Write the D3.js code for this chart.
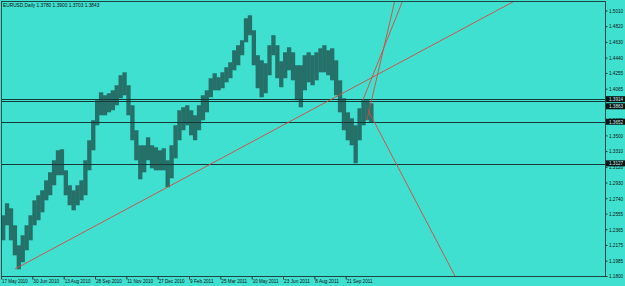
<!DOCTYPE html>
<html>
<head>
<meta charset="utf-8">
<script src="https://cdn.jsdelivr.net/npm/d3@7"></script>
<style>
  body { margin: 0; background: #40e0d0; }
  svg { display: block; }
</style>
</head>
<body>
<div id="chart"></div>
<script>
// EURUSD daily, May 2010 - Oct 2011
const title = 'EURUSD,Daily  1.3780 1.3900 1.3703 1.3843';

const dateBars = [0, 32, 64, 96, 128, 160, 192, 224, 256, 288, 320, 352];
const dateLabels = ['17 May 2010', '30 Jun 2010', '13 Aug 2010', '28 Sep 2010', '11 Nov 2010',
  '27 Dec 2010', '9 Feb 2011', '25 Mar 2011', '10 May 2011', '23 Jun 2011', '8 Aug 2011', '21 Sep 2011'];

const priceTicks = [1.5010, 1.4820, 1.4630, 1.4440, 1.4255, 1.4065, 1.3875, 1.3685, 1.3500,
  1.3310, 1.3120, 1.2930, 1.2740, 1.2555, 1.2365, 1.2175, 1.1985, 1.1800];

// high / low of each 4-bar block
const blockSize = 4;
const blockHigh = [1.2534, 1.2679, 1.2619, 1.2413, 1.2171, 1.2292, 1.2413, 1.2534, 1.2715, 1.2776,
  1.2836, 1.2957, 1.3054, 1.3199, 1.3320, 1.3332, 1.3078, 1.2897, 1.2836, 1.2897,
  1.2957, 1.3199, 1.3441, 1.3683, 1.3925, 1.4021, 1.3985, 1.4009, 1.4045, 1.4106,
  1.4227, 1.4263, 1.4106, 1.3864, 1.3562, 1.3380, 1.3380, 1.3477, 1.3380, 1.3356,
  1.3320, 1.3344, 1.3199, 1.3380, 1.3622, 1.3804, 1.3840, 1.3864, 1.3804, 1.3743,
  1.3864, 1.3985, 1.4045, 1.4191, 1.4251, 1.4203, 1.4263, 1.4324, 1.4384, 1.4529,
  1.4590, 1.4650, 1.4916, 1.4952, 1.4771, 1.4469, 1.4408, 1.4372, 1.4590, 1.4711,
  1.4590, 1.4396, 1.4505, 1.4565, 1.4505, 1.4348, 1.4348, 1.4469, 1.4505, 1.4469,
  1.4505, 1.4553, 1.4590, 1.4529, 1.4553, 1.4408, 1.4166, 1.3949, 1.3779, 1.3707,
  1.3622, 1.3828, 1.3925, 1.3925, 1.3888];
const blockLow = [1.2232, 1.2413, 1.2232, 1.2050, 1.1881, 1.1966, 1.2111, 1.2232, 1.2413, 1.2474,
  1.2570, 1.2715, 1.2776, 1.2897, 1.3018, 1.3018, 1.2776, 1.2655, 1.2594, 1.2655,
  1.2715, 1.2776, 1.3078, 1.3320, 1.3622, 1.3743, 1.3743, 1.3779, 1.3804, 1.3864,
  1.3949, 1.3985, 1.3743, 1.3441, 1.3199, 1.2969, 1.3054, 1.3199, 1.3102, 1.3078,
  1.3078, 1.3078, 1.2873, 1.2981, 1.3223, 1.3441, 1.3562, 1.3622, 1.3501, 1.3441,
  1.3562, 1.3683, 1.3779, 1.3961, 1.4045, 1.4045, 1.4070, 1.4142, 1.4191, 1.4287,
  1.4348, 1.4469, 1.4626, 1.4711, 1.4348, 1.4070, 1.3961, 1.4009, 1.4227, 1.4469,
  1.4191, 1.4082, 1.4191, 1.4287, 1.4166, 1.3925, 1.3840, 1.4045, 1.4142, 1.4106,
  1.4166, 1.4263, 1.4263, 1.4227, 1.4166, 1.3985, 1.3779, 1.3562, 1.3441, 1.3380,
  1.3163, 1.3441, 1.3622, 1.3683, 1.3659];

// horizontal lines and their price boxes
const levelPrices = [1.3937, 1.3912, 1.3662, 1.3154];
const levelLabels = ['1.3914', '1.3863', '1.3652', '1.3127'];
const levelLabelPrices = [1.3938, 1.3852, 1.3665, 1.3162];

// trend lines: start point and second point (bar, price), drawn as rays
const trendStartBar = [14.3, 373.7, 369.6, 374.8];
const trendStartPrice = [1.1885, 1.3686, 1.3928, 1.3807];
const trendEndBar = [336, 402.3, 410.5, 463.6];
const trendEndPrice = [1.3928, 1.5137, 1.5137, 1.1800];

const width = 625;
const height = 286;
const plot = { left: 1, right: 605, top: 1, bottom: 276 };

const bg = '#40e0d0';
const barColor = '#26706a';
const frameColor = '#1d4643';
const lineColor = '#143a37';
const redColor = '#d8483e';
const font = '"Liberation Sans", Arial, sans-serif';
const charW = 2.35;   // squeezed terminal font

const svg = d3.select('#chart').append('svg')
  .attr('width', width)
  .attr('height', height)
  .style('background', bg);

const xScale = d3.scaleLinear()
  .domain([0, 352])
  .range([1, 345.7]);

const yScale = d3.scaleLinear()
  .domain([1.1800, 1.5010])
  .range([276, 10.5]);

const squeeze = sel => sel
  .attr('font-family', font)
  .attr('font-size', 5.5)
  .attr('textLength', function() { return this.textContent.length * charW; })
  .attr('lengthAdjust', 'spacingAndGlyphs');

svg.append('clipPath').attr('id', 'plot-clip')
  .append('rect')
    .attr('x', plot.left)
    .attr('y', plot.top)
    .attr('width', plot.right - plot.left)
    .attr('height', plot.bottom - plot.top);

const inner = svg.append('g').attr('clip-path', 'url(#plot-clip)');

// price blocks
const blocks = blockHigh.map((h, i) => ({ i, high: h, low: blockLow[i] }));
inner.selectAll('.block').data(blocks)
  .enter().append('rect')
    .attr('class', 'block')
    .attr('x', d => xScale(d.i * blockSize))
    .attr('y', d => yScale(d.high))
    .attr('width', xScale(blockSize) - xScale(0) + 0.4)
    .attr('height', d => yScale(d.low) - yScale(d.high))
    .attr('fill', barColor);

// horizontal levels
inner.selectAll('.level').data(levelPrices)
  .enter().append('line')
    .attr('class', 'level')
    .attr('x1', plot.left)
    .attr('x2', plot.right)
    .attr('y1', d => Math.round(yScale(d)) + 0.5)
    .attr('y2', d => Math.round(yScale(d)) + 0.5)
    .attr('stroke', lineColor)
    .attr('stroke-width', 1);

// trend lines, extended as rays to the right
const trends = trendStartBar.map((b, i) => {
  const x1 = xScale(b), y1 = yScale(trendStartPrice[i]);
  const x2 = xScale(trendEndBar[i]), y2 = yScale(trendEndPrice[i]);
  const k = 4;
  return { x1, y1, x2: x1 + (x2 - x1) * k, y2: y1 + (y2 - y1) * k };
});
inner.selectAll('.trend').data(trends)
  .enter().append('line')
    .attr('class', 'trend')
    .attr('x1', d => d.x1)
    .attr('y1', d => d.y1)
    .attr('x2', d => d.x2)
    .attr('y2', d => d.y2)
    .attr('stroke', redColor)
    .attr('stroke-width', 0.9);

// frame
svg.append('rect')
  .attr('x', plot.left + 0.5)
  .attr('y', plot.top + 0.5)
  .attr('width', plot.right - plot.left)
  .attr('height', plot.bottom - plot.top)
  .attr('fill', 'none')
  .attr('stroke', frameColor)
  .attr('stroke-width', 1);

// right price axis
const yAxis = d3.axisRight(yScale)
  .tickValues(priceTicks)
  .tickFormat(d3.format('.4f'))
  .tickSize(2)
  .tickPadding(1.5);
const yAxisG = svg.append('g')
  .attr('class', 'y-axis')
  .attr('transform', `translate(${plot.right + 0.5}, 0)`)
  .call(yAxis);
yAxisG.select('.domain').remove();
yAxisG.selectAll('line').attr('stroke', '#1a3533');
yAxisG.selectAll('text')
  .attr('fill', '#111')
  .call(squeeze);

// bottom date axis
const xAxis = d3.axisBottom(xScale)
  .tickValues(dateBars)
  .tickFormat((d, i) => dateLabels[i])
  .tickSize(3);
const xAxisG = svg.append('g')
  .attr('class', 'x-axis')
  .attr('transform', `translate(0, ${plot.bottom + 0.5})`)
  .call(xAxis);
xAxisG.select('.domain').remove();
xAxisG.selectAll('line').attr('stroke', '#1a3533');
xAxisG.selectAll('text')
  .attr('fill', '#111')
  .attr('text-anchor', 'start')
  .attr('x', 0.5)
  .attr('y', 3)
  .attr('dy', '0.71em')
  .call(squeeze);

// price boxes on the axis
const boxes = svg.selectAll('.pbox').data(levelLabels)
  .enter().append('g')
    .attr('class', 'pbox')
    .attr('transform', (d, i) => `translate(${plot.right + 1}, ${yScale(levelLabelPrices[i])})`);
boxes.append('rect')
  .attr('x', 0)
  .attr('y', -3)
  .attr('width', 19)
  .attr('height', 6)
  .attr('fill', '#0b1514');
boxes.append('text')
  .attr('x', 3)
  .attr('y', 0)
  .attr('dy', '0.34em')
  .attr('fill', '#cfeeea')
  .text(d => d)
  .call(squeeze);

// title
svg.append('text')
  .attr('x', 3)
  .attr('y', 7)
  .attr('fill', '#111')
  .text(title)
  .call(squeeze);
</script>
</body>
</html>
